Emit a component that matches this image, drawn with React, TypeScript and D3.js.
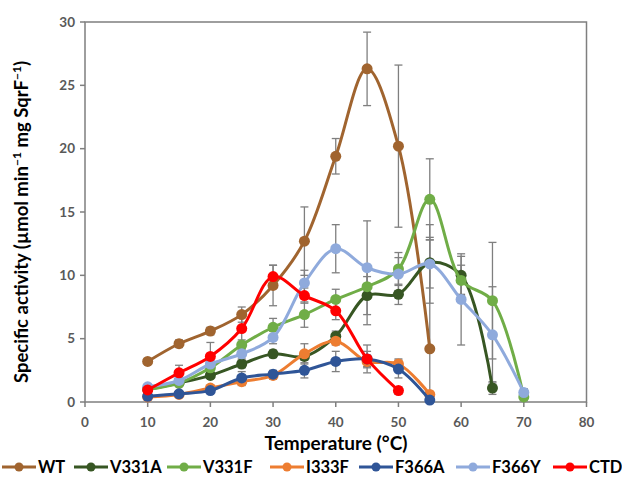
import React, { useEffect, useRef } from 'react';
import * as d3 from 'd3';

const temps = [10, 15, 20, 25, 30, 35, 40, 45, 50, 55, 60, 65, 70];
const xTicks = [0, 10, 20, 30, 40, 50, 60, 70, 80];
const yTicks = [0, 5, 10, 15, 20, 25, 30];

const wt = [3.2, 4.6, 5.6, 6.9, 9.2, 12.7, 19.4, 26.3, 20.2, 4.2];
const wtErr = [0.2, 0.3, 0.3, 0.6, 1.6, 2.7, 1.4, 2.9, 6.4, 8.6];
const v331a = [1.0, 1.5, 2.1, 3.0, 3.8, 3.6, 5.2, 8.4, 8.5, 11.0, 10.0, 1.1];
const v331aErr = [0.1, 0.2, 0.2, 0.3, 0.3, 0.3, 0.4, 2.3, 0.8, 2.0, 1.5, 0.5];
const v331f = [1.0, 1.5, 2.7, 4.5, 5.9, 6.9, 8.1, 9.1, 10.5, 16.0, 9.6, 8.0, 0.4];
const v331fErr = [0.1, 0.2, 0.3, 0.4, 0.7, 1.0, 0.8, 0.8, 1.3, 3.2, 1.2, 4.6, 0.3];
const i333f = [0.4, 0.6, 1.1, 1.6, 2.1, 3.8, 4.8, 3.2, 3.0, 0.6];
const i333fErr = [0.1, 0.1, 0.2, 0.3, 0.3, 0.8, 0.3, 0.5, 0.4, 0.2];
const f366a = [0.45, 0.65, 0.9, 1.9, 2.2, 2.5, 3.2, 3.4, 2.6, 0.15];
const f366aErr = [0.1, 0.1, 0.2, 0.5, 0.3, 0.6, 0.8, 0.6, 0.7, 0.1];
const f366y = [1.2, 1.7, 3.0, 3.8, 5.1, 9.4, 12.1, 10.6, 10.1, 10.9, 8.1, 5.3, 0.75];
const f366yErr = [0.2, 0.2, 0.3, 0.4, 0.5, 1.0, 1.9, 3.7, 1.3, 3.1, 3.6, 3.8, 0.3];
const ctd = [0.95, 2.3, 3.6, 5.8, 9.9, 8.4, 7.2, 3.4, 0.9];
const ctdErr = [0.2, 0.6, 1.1, 1.1, 0.9, 0.6, 0.7, 1.1, 0.3];

const seriesNames = ['WT', 'V331A', 'V331F', 'I333F', 'F366A', 'F366Y', 'CTD'];
const seriesValues = [wt, v331a, v331f, i333f, f366a, f366y, ctd];
const seriesErrors = [wtErr, v331aErr, v331fErr, i333fErr, f366aErr, f366yErr, ctdErr];
const colors = ['#A0642F', '#375623', '#70AD47', '#ED7D31', '#2F5597', '#8FAADC', '#FF0000'];

const W = 622;
const H = 482;
const FONT = 'Lato, "Open Sans", sans-serif';

export default function App() {
  const svgRef = useRef<SVGSVGElement>(null);

  useEffect(() => {
    document.body.style.margin = '0';
    if (!svgRef.current) return;
    const svg = d3.select(svgRef.current);
    svg.selectAll('*').remove();

    const x = d3.scaleLinear().domain([0, 80]).range([85, 586.5]);
    const y = d3.scaleLinear().domain([0, 30]).range([402, 22]);

    const series = seriesNames.map((name, i) => ({
      name,
      color: colors[i],
      points: seriesValues[i].map((v, j) => ({ t: temps[j], v, e: seriesErrors[i][j] })),
    }));

    // plot frame
    svg.append('rect')
      .attr('x', x(0)).attr('y', y(30))
      .attr('width', x(80) - x(0)).attr('height', y(0) - y(30))
      .attr('fill', 'none').attr('stroke', '#7F7F7F').attr('stroke-width', 1.5);

    // y axis ticks + labels
    const gy = svg.append('g');
    yTicks.forEach((t) => {
      gy.append('line').attr('x1', x(0) - 5).attr('x2', x(0)).attr('y1', y(t)).attr('y2', y(t))
        .attr('stroke', '#7F7F7F').attr('stroke-width', 1.5);
      gy.append('text').attr('x', x(0) - 10).attr('y', y(t)).attr('dy', '0.35em')
        .attr('text-anchor', 'end').attr('font-family', FONT).attr('font-weight', 'bold')
        .attr('font-size', 13.5).attr('fill', '#595959').text(t);
    });

    // x axis ticks + labels
    const gx = svg.append('g');
    xTicks.forEach((t) => {
      gx.append('line').attr('x1', x(t)).attr('x2', x(t)).attr('y1', y(0)).attr('y2', y(0) + 5)
        .attr('stroke', '#7F7F7F').attr('stroke-width', 1.5);
      gx.append('text').attr('x', x(t)).attr('y', y(0) + 25)
        .attr('text-anchor', 'middle').attr('font-family', FONT).attr('font-weight', 'bold')
        .attr('font-size', 13.5).attr('fill', '#595959').text(t);
    });

    // error bars
    const ge = svg.append('g').attr('stroke', '#7F7F7F').attr('stroke-width', 1.3);
    series.forEach((s) => {
      s.points.forEach((p) => {
        const top = y(Math.min(30, p.v + p.e));
        const bot = y(Math.max(0, p.v - p.e));
        const cx = x(p.t);
        ge.append('line').attr('x1', cx).attr('x2', cx).attr('y1', top).attr('y2', bot);
        ge.append('line').attr('x1', cx - 4).attr('x2', cx + 4).attr('y1', top).attr('y2', top);
        if (p.v - p.e > 0) {
          ge.append('line').attr('x1', cx - 4).attr('x2', cx + 4).attr('y1', bot).attr('y2', bot);
        }
      });
    });

    // lines and markers
    const line = d3.line<{ t: number; v: number }>()
      .x((d) => x(d.t)).y((d) => y(d.v))
      .curve(d3.curveCatmullRom.alpha(0.5));

    series.forEach((s) => {
      const g = svg.append('g');
      g.append('path').attr('d', line(s.points)).attr('fill', 'none')
        .attr('stroke', s.color).attr('stroke-width', 3);
      g.selectAll('circle').data(s.points).enter().append('circle')
        .attr('cx', (d) => x(d.t)).attr('cy', (d) => y(d.v)).attr('r', 5.5)
        .attr('fill', s.color);
    });

    // axis titles
    svg.append('text').attr('x', 336).attr('y', 450).attr('text-anchor', 'middle')
      .attr('font-family', FONT).attr('font-weight', 'bold').attr('font-size', 19)
      .attr('fill', '#000').text('Temperature (°C)');

    const yt = svg.append('text')
      .attr('transform', `translate(28,${(y(0) + y(30)) / 2 + 10}) rotate(-90)`)
      .attr('text-anchor', 'middle').attr('font-family', FONT).attr('font-weight', 'bold')
      .attr('font-size', 18.5).attr('fill', '#000');
    yt.append('tspan').text('Specific activity (µmol min');
    yt.append('tspan').attr('dy', -7).attr('font-size', 12).text('−1');
    yt.append('tspan').attr('dy', 7).text(' mg SqrF');
    yt.append('tspan').attr('dy', -7).attr('font-size', 12).text('−1');
    yt.append('tspan').attr('dy', 7).text(')');

    // legend
    const legendX = [2, 74, 167, 270, 359, 456, 553];
    const lg = svg.append('g');
    series.forEach((s, i) => {
      const lx = legendX[i];
      lg.append('line').attr('x1', lx).attr('x2', lx + 34).attr('y1', 467).attr('y2', 467)
        .attr('stroke', s.color).attr('stroke-width', 3);
      lg.append('circle').attr('cx', lx + 17).attr('cy', 467).attr('r', 4.5).attr('fill', s.color);
      lg.append('text').attr('x', lx + 36).attr('y', 467).attr('dy', '0.36em')
        .attr('font-family', FONT).attr('font-weight', 'bold').attr('font-size', 16.5)
        .attr('fill', '#000').text(s.name);
    });
  }, []);

  return <svg ref={svgRef} width={W} height={H} style={{ display: 'block', background: '#fff' }} />;
}
